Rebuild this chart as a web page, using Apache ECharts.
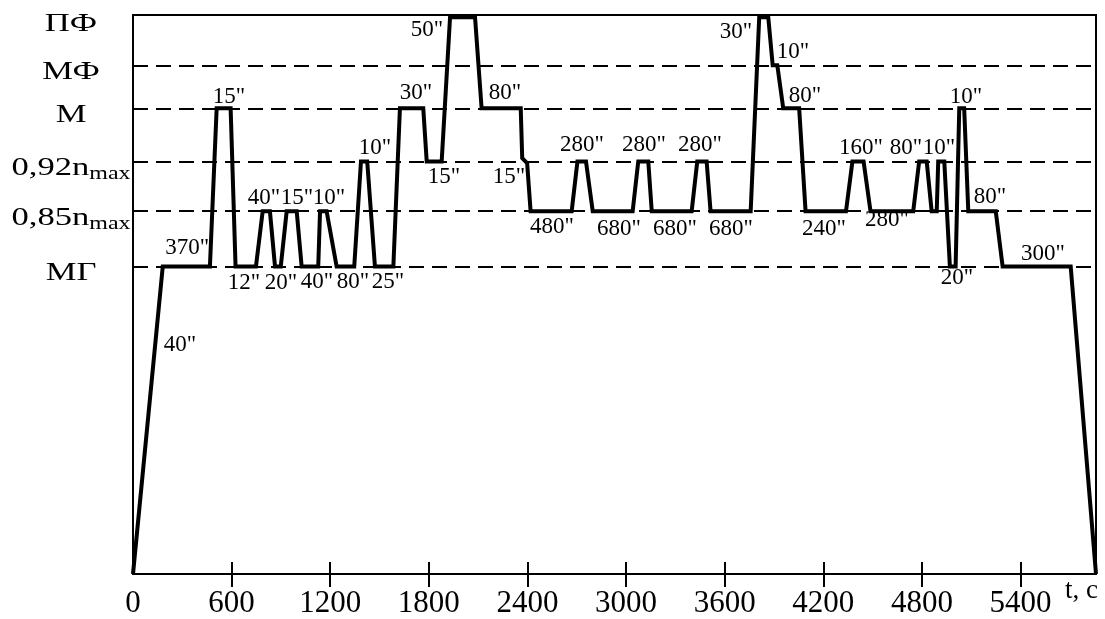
<!DOCTYPE html>
<html>
<head>
<meta charset="utf-8">
<script src="https://cdn.jsdelivr.net/npm/echarts@6/dist/echarts.min.js"></script>
<style>html,body{margin:0;padding:0;background:#fff;}#c{width:1105px;height:619px;}</style>
</head>
<body>
<div id="c"></div>
<script>
// Operating levels (relative units, 0 = engine stopped)
const levelNames = ['МГ', '0,85n_max', '0,92n_max', 'М', 'МФ', 'ПФ'];
const levelValues = [55.0, 64.9, 73.8, 83.3, 91.0, 99.6];
const dashedLevels = [55.0, 64.9, 73.8, 83.3, 91.0];

// Flight cycle: time, s
const cycleTime = [0, 181, 468, 509, 594, 624, 748, 789, 833, 864, 899, 935, 996, 1026, 1127, 1138, 1178, 1239,
  1346, 1387, 1425, 1472, 1584, 1624, 1766, 1787, 1878, 1929, 2081, 2121, 2359, 2368, 2398, 2419,
  2669, 2704, 2756, 2797, 3040, 3074, 3135, 3156, 3399, 3433, 3490, 3514, 3758, 3810, 3865, 3892,
  3920, 3956, 4053, 4092, 4338, 4377, 4445, 4487, 4747, 4783, 4829, 4859, 4890, 4899, 4936, 4970,
  5005, 5027, 5057, 5082, 5249, 5291, 5705, 5859];
// Flight cycle: engine mode level
const cycleLevel = [0, 55.0, 55.0, 83.3, 83.3, 55.0, 55.0, 64.9, 64.9, 55.0, 55.0, 64.9, 64.9, 55.0, 55.0, 64.9, 64.9, 55.0,
  55.0, 73.8, 73.8, 55.0, 55.0, 83.3, 83.3, 73.8, 73.8, 99.6, 99.6, 83.3, 83.3, 74.4, 73.5, 64.9,
  64.9, 73.8, 73.8, 64.9, 64.9, 73.8, 73.8, 64.9, 64.9, 73.8, 73.8, 64.9, 64.9, 99.6, 99.6, 91.0,
  91.0, 83.3, 83.3, 64.9, 64.9, 73.8, 73.8, 64.9, 64.9, 73.8, 73.8, 64.9, 64.9, 73.8, 73.8, 55.0,
  55.0, 83.3, 83.3, 64.9, 64.9, 55.0, 55.0, 0];

// Duration annotations
const noteText = ['370"', '40"', '15"', '12"', '20"', '40"', '15"', '10"', '40"', '80"', '25"', '10"', '30"', '15"', '50"',
  '80"', '15"', '480"', '280"', '280"', '280"', '680"', '680"', '680"', '30"', '10"', '80"', '240"', '160"', '80"', '10"',
  '280"', '10"', '80"', '20"', '300"'];
const noteTime = [329, 286, 584, 675, 900, 797, 998, 1192, 1119, 1338, 1551, 1472, 1722, 1892, 1789,
  2263, 2287, 2549, 2732, 3109, 3449, 2957, 3297, 3638, 3668, 4015, 4088, 4204, 4429, 4703, 4903,
  4587, 5068, 5214, 5013, 5536];
const noteLevel = [58.4, 40.9, 85.3, 52.0, 52.0, 67.2, 67.2, 67.2, 52.2, 52.2, 52.2, 76.3, 86.0, 71.0, 97.3,
  86.0, 71.1, 62.0, 76.7, 76.7, 76.7, 61.8, 61.8, 61.8, 97.0, 93.4, 85.5, 61.8, 76.3, 76.3, 76.3,
  63.3, 85.3, 67.4, 52.9, 57.3];

const xTicks = [0, 600, 1200, 1800, 2400, 3000, 3600, 4200, 4800, 5400];
const xMax = 5859;
const xName = 't, c';

const serif = 'Liberation Serif';
const chart = echarts.init(document.getElementById('c'), null, {renderer: 'canvas'});

const lineData = cycleTime.map((t, i) => [t, cycleLevel[i]]);
const noteData = noteTime.map((t, i) => [t, noteLevel[i], noteText[i]]);

const tickHalf = 12;

chart.setOption({
  animation: false,
  backgroundColor: '#fff',
  grid: {left: 133, right: 9, top: 15, bottom: 45, show: true, borderColor: '#000', borderWidth: 2, backgroundColor: 'transparent'},
  xAxis: {
    type: 'value', min: 0, max: xMax, position: 'bottom', offset: -tickHalf,
    name: xName, nameLocation: 'end', nameGap: 2,
    nameTextStyle: {fontFamily: serif, fontSize: 27, color: '#000', align: 'right', verticalAlign: 'top', padding: [3 + tickHalf, 0, 0, 0]},
    axisLine: {show: false, onZero: false},
    axisTick: {show: true, inside: false, length: 2 * tickHalf + 1, lineStyle: {color: '#000', width: 2}, customValues: xTicks.slice(1)},
    axisLabel: {show: true, customValues: xTicks, formatter: v => String(v), fontFamily: serif, fontSize: 31, color: '#000', margin: 14 + tickHalf},
    splitLine: {show: false},
    z: 10
  },
  yAxis: {
    type: 'value', min: 0, max: 100,
    axisLine: {show: true, lineStyle: {color: '#000', width: 2}},
    axisTick: {show: false}, axisLabel: {show: false}, splitLine: {show: false}
  },
  series: [{
    type: 'line',
    data: lineData,
    symbol: 'none',
    lineStyle: {color: '#000', width: 4, join: 'miter'},
    z: 5,
    markLine: {
      silent: true, symbol: 'none', label: {show: false},
      lineStyle: {color: '#000', width: 2, type: [15, 8]},
      data: dashedLevels.map(v => ({yAxis: v}))
    }
  }, {
    type: 'scatter',
    data: noteData,
    symbolSize: 1,
    itemStyle: {color: 'rgba(0,0,0,0)'},
    label: {show: true, position: 'inside', formatter: p => p.data[2], fontFamily: serif, fontSize: 23,
      color: '#000', textBorderWidth: 0, textBorderColor: 'transparent', opacity: 1},
    emphasis: {disabled: true},
    z: 6
  }]
});

const x0 = chart.convertToPixel({xAxisIndex: 0}, 0);
const graphics = levelNames.map((name, i) => {
  const y = chart.convertToPixel({yAxisIndex: 0}, levelValues[i]);
  let text;
  if (name.indexOf('_') >= 0) {
    const parts = name.split('_');
    text = '{a|' + parts[0] + '}{s|' + parts[1] + '}';
  } else {
    text = '{a|' + name + '}';
  }
  const rich = {
    a: {fontFamily: serif, fontSize: 26, lineHeight: 30, fill: '#000'},
    s: {fontFamily: serif, fontSize: 18, lineHeight: 18, verticalAlign: 'bottom', fill: '#000'}
  };
  return {
    type: 'text', x: x0 - 62, y: y + 7, scaleX: 1.33,
    style: {text: text, rich: rich, align: 'center', verticalAlign: 'middle', fill: '#000', fontFamily: serif, fontSize: 26}
  };
});
chart.setOption({graphic: graphics});
</script>
</body>
</html>
